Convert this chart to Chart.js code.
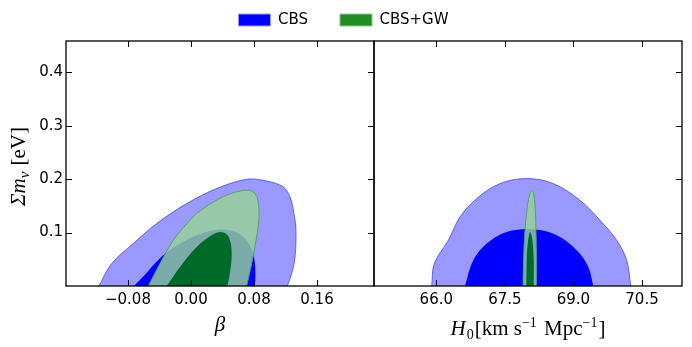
<!DOCTYPE html>
<html><head><meta charset="utf-8">
<script src="https://cdn.jsdelivr.net/npm/chart.js@4.4.1/dist/chart.umd.min.js"></script>
<style>html,body{margin:0;padding:0;background:#fff;}</style>
</head><body>
<canvas id="c" width="692" height="347"></canvas>
<script>
// ---------- data (contour boundaries) ----------
// Left panel: beta vs sum m_nu
const betaCbs95X = [-0.1168, -0.1007, -0.0733, -0.0436, -0.0055, 0.0326, 0.0707, 0.0961, 0.1172, 0.1257, 0.1308, 0.1333, 0.1321, 0.1279, 0.1223];
const betaCbs95Y = [0, 0.0419, 0.0794, 0.1168, 0.1542, 0.1823, 0.1997, 0.1965, 0.1853, 0.1666, 0.1355, 0.1042, 0.0543, 0.0232, 0];
const betaCbs68X = [-0.0724, -0.058, -0.044, -0.030, -0.012, 0.007, 0.025, 0.040, 0.055, 0.067, 0.076, 0.0805, 0.0818, 0.0813];
const betaCbs68Y = [0, 0.022, 0.045, 0.064, 0.081, 0.095, 0.103, 0.1056, 0.102, 0.091, 0.072, 0.050, 0.025, 0];
const betaGw95X = [-0.0542, -0.0394, -0.0225, -0.005, 0.0072, 0.027, 0.047, 0.063, 0.074, 0.082, 0.0858, 0.0862, 0.0834, 0.0771, 0.0707];
const betaGw95Y = [0, 0.0419, 0.0855, 0.117, 0.1355, 0.156, 0.171, 0.178, 0.179, 0.172, 0.152, 0.123, 0.0917, 0.0419, 0];
const betaGw68X = [-0.0309, -0.014, 0.0072, 0.0241, 0.0368, 0.046, 0.0505, 0.0517, 0.0495, 0.0462];
const betaGw68Y = [0, 0.0356, 0.073, 0.093, 0.101, 0.096, 0.08, 0.055, 0.025, 0];
// Right panel: H0 vs sum m_nu
const h0Cbs95X = [65.90, 65.956, 66.263, 66.518, 66.884, 67.394, 67.978, 68.56, 69.144, 69.582, 69.947, 70.165, 70.253];
const h0Cbs95Y = [0, 0.0419, 0.0855, 0.129, 0.1636, 0.1917, 0.201, 0.1917, 0.1603, 0.1229, 0.0855, 0.0481, 0];
const h0Cbs68X = [66.628, 66.809, 67.103, 67.54, 68.122, 68.634, 69.072, 69.325, 69.435];
const h0Cbs68Y = [0, 0.0481, 0.0794, 0.101, 0.1061, 0.0949, 0.0668, 0.0356, 0];
const h0Gw95X = [67.897, 67.908, 67.94, 67.995, 68.05, 68.087, 68.126, 68.159, 68.181, 68.192, 68.192];
const h0Gw95Y = [0, 0.048, 0.104, 0.151, 0.1735, 0.179, 0.1735, 0.151, 0.104, 0.048, 0];
const h0Gw68X = [67.969, 67.978, 67.995, 68.028, 68.05, 68.083, 68.115, 68.131, 68.131];
const h0Gw68Y = [0, 0.048, 0.076, 0.095, 0.101, 0.095, 0.076, 0.048, 0];
// ticks
const yTicks = [0.1, 0.2, 0.3, 0.4];
const betaTicks = [-0.08, 0.0, 0.08, 0.16];
const h0Ticks = [66.0, 67.5, 69.0, 70.5];
const legendLabels = ['CBS', 'CBS+GW'];

// ---------- helpers ----------
const pts = (xs, ys) => xs.map((x, i) => ({x: x, y: ys[i]}));
const C = {
  b95: 'rgba(0,0,255,0.4)', b95line: 'rgba(70,70,255,0.8)',
  b68: '#0000ff',
  g95: 'rgba(150,210,150,0.82)', g95line: 'rgba(80,160,80,0.9)',
  g68: 'rgb(0,107,40)'
};
function contour(label, xs, ys, xAxis, fill, line) {
  return {
    label: label, data: pts(xs, ys), xAxisID: xAxis, yAxisID: 'y',
    showLine: true, fill: 'shape', backgroundColor: fill,
    borderColor: line || 'rgba(0,0,0,0)', borderWidth: line ? 1 : 0,
    pointRadius: 0, pointHoverRadius: 0, tension: 0.35
  };
}
// first dataset drawn on top
const datasets = [
  contour('CBS+GW 68%', betaGw68X, betaGw68Y, 'xL', C.g68),
  contour('CBS+GW 95%', betaGw95X, betaGw95Y, 'xL', C.g95, C.g95line),
  contour('CBS 68%', betaCbs68X, betaCbs68Y, 'xL', C.b68),
  contour('CBS 95%', betaCbs95X, betaCbs95Y, 'xL', C.b95, C.b95line),
  contour('CBS+GW 68%', h0Gw68X, h0Gw68Y, 'xR', C.g68),
  contour('CBS+GW 95%', h0Gw95X, h0Gw95Y, 'xR', C.g95, C.g95line),
  contour('CBS 68%', h0Cbs68X, h0Cbs68Y, 'xR', C.b68),
  contour('CBS 95%', h0Cbs95X, h0Cbs95Y, 'xR', C.b95, C.b95line)
];

const fixTicks = arr => scale => { scale.ticks = arr.map(v => ({value: v})); };
const fmtBeta = v => Math.abs(v) < 1e-9 ? '0.00' : (v < 0 ? '\u2212' : '') + Math.abs(v).toFixed(2);

// frames + inward tick marks on all sides
const framePlugin = {
  id: 'frames',
  afterDatasetsDraw(chart) {
    const {ctx, chartArea: a, scales} = chart;
    const ys = scales.y, tl = 6;
    ctx.save();
    ctx.strokeStyle = '#000';
    const seg = (x1, y1, x2, y2) => { ctx.beginPath(); ctx.moveTo(x1, y1); ctx.lineTo(x2, y2); ctx.stroke(); };
    [scales.xL, scales.xR].forEach((xs, idx) => {
      ctx.lineWidth = 1;
      xs.ticks.forEach(t => {
        const px = Math.round(xs.getPixelForValue(t.value)) + 0.5;
        seg(px, a.bottom, px, a.bottom - tl);
        seg(px, a.top, px, a.top + tl);
      });
      ys.ticks.forEach(t => {
        const py = Math.round(ys.getPixelForValue(t.value)) + 0.5;
        if (idx === 0) seg(xs.left, py, xs.left + tl, py);
        seg(xs.right, py, xs.right - tl, py);
      });
      ctx.lineWidth = 1.3;
      ctx.strokeRect(xs.left, a.top, xs.right - xs.left, a.bottom - a.top);
    });
    ctx.restore();
  }
};

// axis titles with math-like styling
const SER = '"Liberation Serif", "DejaVu Serif", serif';
const it = 'italic 21px ' + SER, rm = '21px ' + SER, sm = '14px ' + SER, smit = 'italic 15px ' + SER;
function drawRich(ctx, parts, x, y) {
  let w = 0;
  parts.forEach(p => { ctx.font = p.f; p.w = ctx.measureText(p.t).width; w += p.w + (p.g || 0); });
  let cx = x - w / 2;
  parts.forEach(p => { ctx.font = p.f; ctx.fillText(p.t, cx, y + (p.dy || 0)); cx += p.w + (p.g || 0); });
}
const titlePlugin = {
  id: 'titles',
  afterDraw(chart) {
    const {ctx, scales, chartArea: a} = chart;
    ctx.save();
    ctx.fillStyle = '#000';
    ctx.textBaseline = 'alphabetic';
    const xl = scales.xL, xr = scales.xR;
    drawRich(ctx, [{t: '\u03B2', f: it}], (xl.left + xl.right) / 2, 331);
    drawRich(ctx, [
      {t: 'H', f: it, g: 1}, {t: '0', f: sm, dy: 4, g: 1}, {t: '[km s', f: rm},
      {t: '\u22121', f: sm, dy: -8, g: 2}, {t: ' Mpc', f: rm}, {t: '\u22121', f: sm, dy: -8, g: 1}, {t: ']', f: rm}
    ], (xr.left + xr.right) / 2, 335);
    ctx.translate(25, (a.top + a.bottom) / 2 + 3);
    ctx.rotate(-Math.PI / 2);
    drawRich(ctx, [{t: '\u03A3m', f: it}, {t: '\u03BD', f: smit, dy: 4, g: 6}, {t: '[eV]', f: rm}], 0, 0);
    ctx.restore();
  }
};

Chart.defaults.font.family = '"DejaVu Sans", sans-serif';
Chart.defaults.font.size = 15;
Chart.defaults.color = '#000';

new Chart(document.getElementById('c'), {
  type: 'scatter',
  data: {datasets: datasets},
  options: {
    responsive: false, devicePixelRatio: 1, animation: false,
    layout: {padding: {left: 5, right: 10, top: -19.5, bottom: 0}},
    plugins: {
      tooltip: {enabled: false},
      legend: {
        position: 'top', align: 'center',
        labels: {
          boxWidth: 32, boxHeight: 12, padding: 32, color: '#000',
          font: {size: 15, family: '"DejaVu Sans", sans-serif'},
          generateLabels: () => [
            {text: legendLabels[0], fillStyle: '#0000ff', strokeStyle: '#9a9aff', lineWidth: 1, hidden: false, datasetIndex: 3},
            {text: legendLabels[1], fillStyle: '#228b22', strokeStyle: '#8fc78f', lineWidth: 1, hidden: false, datasetIndex: 1}
          ]
        }
      }
    },
    scales: {
      xt: {
        type: 'linear', position: 'top', min: 0, max: 1, display: true,
        ticks: {display: false}, grid: {display: false, drawTicks: false}, border: {display: false},
        afterFit: s => { s.height = 3.5; }
      },
      y: {
        type: 'linear', position: 'left', min: 0, max: 0.4585,
        afterBuildTicks: fixTicks(yTicks),
        ticks: {padding: 3, callback: v => v.toFixed(1), autoSkip: false},
        grid: {display: false, drawTicks: false}, border: {display: false},
        afterFit: s => { s.width = 61; }
      },
      xL: {
        type: 'linear', position: 'bottom', stack: 'panels', stackWeight: 1,
        min: -0.1587, max: 0.2324,
        afterBuildTicks: fixTicks(betaTicks),
        ticks: {padding: 5, callback: fmtBeta, autoSkip: false, maxRotation: 0},
        grid: {display: false, drawTicks: false}, border: {display: false},
        afterFit: s => { s.height = 61; }
      },
      xR: {
        type: 'linear', position: 'bottom', stack: 'panels', stackWeight: 1,
        min: 64.637, max: 71.375,
        afterBuildTicks: fixTicks(h0Ticks),
        ticks: {padding: 5, callback: v => v.toFixed(1), autoSkip: false, maxRotation: 0},
        grid: {display: false, drawTicks: false}, border: {display: false},
        afterFit: s => { s.height = 61; }
      }
    }
  },
  plugins: [framePlugin, titlePlugin]
});
</script>
</body></html>
